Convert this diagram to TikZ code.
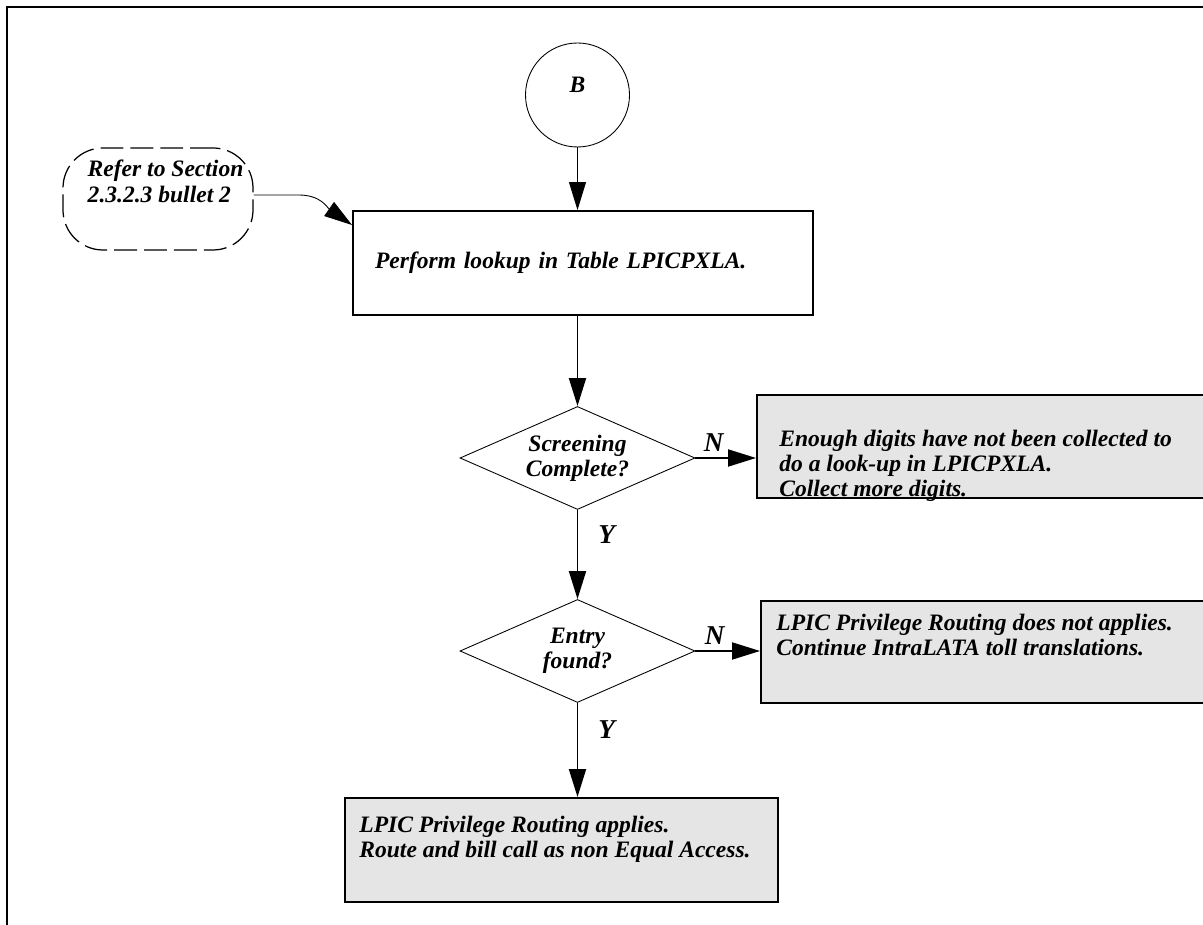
\documentclass[tikz,border=0pt]{standalone}
\usepackage{fontspec}
\setmainfont{Liberation Serif}
\usetikzlibrary{shapes.geometric,arrows.meta}
\definecolor{boxgray}{RGB}{229,229,229}
\newcommand{\chartfont}{\bfseries\itshape\fontsize{13.4}{14.4}\selectfont}
\begin{document}
\begin{tikzpicture}[
    txt/.style={font=\chartfont, align=left, inner sep=0pt},
    yn/.style={font=\bfseries\itshape\fontsize{15.5}{17}\selectfont},
    proc/.style={draw, line width=1.1pt, minimum height=2.08cm},
    result/.style={proc, fill=boxgray},
    test/.style={diamond, draw, line width=0.5pt, aspect=2.28, minimum width=4.7cm,
        minimum height=2.06cm, inner sep=0pt, align=center, font=\chartfont},
    conn/.style={circle, draw, line width=0.5pt, minimum size=2.08cm, font=\chartfont},
    note/.style={draw, line width=0.7pt, dash pattern=on 13pt off 4pt,
        rounded corners=0.8cm, minimum width=3.8cm, minimum height=2.04cm},
    flow/.style={line width=1.1pt, -{Triangle[length=0.56cm,width=0.34cm]}},
    thinflow/.style={flow, line width=0.5pt},
  ]
  \clip (0,0) rectangle (24.06,18.5);
  \draw[line width=1.1pt] (24.3,18.36) -- (0.14,18.36) -- (0.14,-0.3);

  \node[conn, text depth=0.4cm] (B) at (11.55,16.6) {B};
  \node[proc, minimum width=9.2cm, text width=8.32cm, inner xsep=0.44cm, align=left,
      font=\chartfont] (lookup) at (11.66,13.24) {Perform lookup in Table LPICPXLA.};
  \node[note] (refer) at (3.16,14.52) {};
  \node[txt, anchor=west] (refertxt) at ([xshift=0.5cm,yshift=0.35cm]refer.west)
      {Refer to Section\\2.3.2.3 bullet 2};

  \node[test] (screen) at (11.55,9.34) {Screening\\Complete?};
  \node[result, minimum width=9.5cm, minimum height=2.06cm] (nodigits) at (19.89,9.57) {};
  \node[txt, anchor=west] (nodigitstxt) at ([xshift=0.46cm,yshift=-0.39cm]nodigits.west)
      {Enough digits have not been collected to\\do a look-up in LPICPXLA.\\Collect more digits.};

  \node[test] (entry) at (11.55,5.48) {Entry\\found?};
  \node[result, minimum width=9.5cm, minimum height=2.04cm] (noprivilege) at (19.97,5.46) {};
  \node[txt, anchor=west] (noprivilegetxt) at ([xshift=0.32cm,yshift=0.34cm]noprivilege.west)
      {LPIC Privilege Routing does not applies.\\Continue IntraLATA toll translations.};

  \node[result, minimum width=8.66cm] (privilege) at (11.23,1.5) {};
  \node[txt, anchor=west] (privilegetxt) at ([xshift=0.3cm,yshift=0.22cm]privilege.west)
      {LPIC Privilege Routing applies.\\Route and bill call as non Equal Access.};

  \draw[thinflow] (B) -- (B |- lookup.north);
  \draw[thinflow] ([yshift=0.08cm]refer.east) -- ++(0.9,0)
      .. controls +(0.45,0) and +(-0.5,0.35) .. ([yshift=-0.3cm]lookup.north west);
  \draw[flow] (lookup.south -| screen.north) -- (screen.north);
  \draw[flow] (screen.east) -- node[yn, above, pos=0.3] (n1) {N} (screen.east -| nodigits.west);
  \draw[flow] (screen.south) -- node[yn, right, pos=0.28, xshift=0.28cm] (y1) {Y} (entry.north);
  \draw[flow] (entry.east) -- node[yn, above, pos=0.3] (n2) {N} (entry.east -| noprivilege.west);
  \draw[flow] (entry.south) -- node[yn, right, pos=0.28, xshift=0.28cm] (y2) {Y}
      (entry.south |- privilege.north);
\end{tikzpicture}
\end{document}
